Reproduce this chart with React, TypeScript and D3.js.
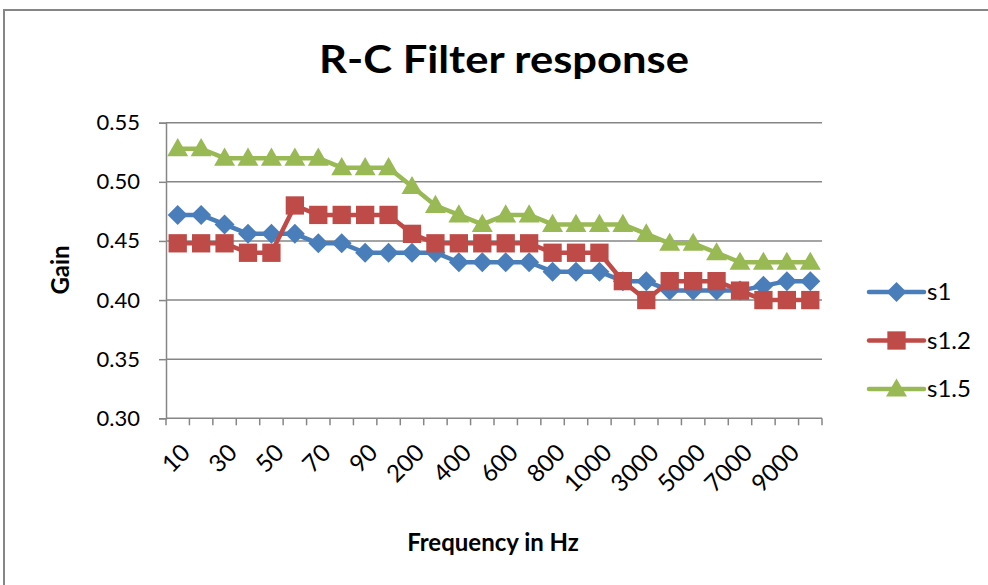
import React, { useEffect, useRef } from "react";
import * as d3 from "d3";

// categories (Hz)
const frequencies = [
  "10", "20", "30", "40", "50", "60", "70", "80", "90", "100",
  "200", "300", "400", "500", "600", "700", "800", "900", "1000",
  "2000", "3000", "4000", "5000", "6000", "7000", "8000", "9000", "10000",
];

// gain values
const s1 = [
  0.472, 0.472, 0.464, 0.456, 0.456, 0.456, 0.448, 0.448, 0.44, 0.44,
  0.44, 0.44, 0.432, 0.432, 0.432, 0.432, 0.424, 0.424, 0.424,
  0.416, 0.416, 0.408, 0.408, 0.408, 0.408, 0.412, 0.416, 0.416,
];
const s12 = [
  0.448, 0.448, 0.448, 0.44, 0.44, 0.48, 0.472, 0.472, 0.472, 0.472,
  0.456, 0.448, 0.448, 0.448, 0.448, 0.448, 0.44, 0.44, 0.44,
  0.416, 0.4, 0.416, 0.416, 0.416, 0.408, 0.4, 0.4, 0.4,
];
const s15 = [
  0.528, 0.528, 0.52, 0.52, 0.52, 0.52, 0.52, 0.512, 0.512, 0.512,
  0.496, 0.48, 0.472, 0.464, 0.472, 0.472, 0.464, 0.464, 0.464,
  0.464, 0.456, 0.448, 0.448, 0.44, 0.432, 0.432, 0.432, 0.432,
];

const seriesNames = ["s1", "s1.2", "s1.5"];
const yTicks = [0.3, 0.35, 0.4, 0.45, 0.5, 0.55];

const App = () => {
  const ref = useRef<SVGSVGElement>(null);

  useEffect(() => {
    const width = 988;
    const height = 585;
    const font = "Lato, 'Open Sans', sans-serif";
    const grid = "#868686";
    const colors = ["#4a7ebb", "#be4b48", "#98b954"];
    const symbols = [d3.symbolDiamond2, d3.symbolSquare, d3.symbolTriangle];
    const symSizes = [255, 335, 190];

    const svg = d3.select(ref.current);
    svg.selectAll("*").remove();

    // chart frame
    svg.append("rect")
      .attr("x", 4).attr("y", 10)
      .attr("width", width).attr("height", height)
      .attr("fill", "#fff")
      .attr("stroke", grid).attr("stroke-width", 2);

    const left = 166, right = 822, top = 122.7, bottom = 418.3;

    const x = d3.scaleBand<string>()
      .domain(frequencies)
      .range([left, right]);

    const y = d3.scaleLinear()
      .domain([0.3, 0.55])
      .range([bottom, top]);

    // title
    svg.append("text")
      .attr("x", 504).attr("y", 73)
      .attr("text-anchor", "middle")
      .attr("font-family", font)
      .attr("font-weight", "bold")
      .attr("font-size", 38)
      .attr("textLength", 370)
      .attr("lengthAdjust", "spacingAndGlyphs")
      .text("R-C Filter response");

    // gridlines
    svg.append("g")
      .selectAll("line")
      .data(yTicks.slice(1))
      .enter()
      .append("line")
      .attr("x1", left).attr("x2", right)
      .attr("y1", d => y(d)).attr("y2", d => y(d))
      .attr("stroke", grid).attr("stroke-width", 1.5);

    // y axis
    const yAxis = svg.append("g")
      .attr("transform", `translate(${left},0)`)
      .call(d3.axisLeft(y).tickValues(yTicks).tickFormat(d3.format(".2f")).tickSize(7).tickPadding(19));
    yAxis.select(".domain").attr("stroke", grid).attr("stroke-width", 1.5);
    yAxis.selectAll(".tick line").attr("stroke", grid).attr("stroke-width", 1.5);
    yAxis.selectAll("text")
      .attr("font-family", font)
      .attr("font-size", 22)
      .attr("fill", "#000");

    // x axis (ticks at category boundaries)
    const xg = svg.append("g");
    xg.append("line")
      .attr("x1", left).attr("x2", right)
      .attr("y1", bottom).attr("y2", bottom)
      .attr("stroke", grid).attr("stroke-width", 1.5);
    xg.selectAll("line.tk")
      .data(frequencies.concat([""]))
      .enter()
      .append("line")
      .attr("class", "tk")
      .attr("x1", (d, i) => left + i * x.bandwidth())
      .attr("x2", (d, i) => left + i * x.bandwidth())
      .attr("y1", bottom).attr("y2", bottom + 7)
      .attr("stroke", grid).attr("stroke-width", 1.5);
    xg.selectAll("text")
      .data(frequencies.filter((d, i) => i % 2 === 0))
      .enter()
      .append("text")
      .attr("transform", d => `translate(${(x(d) as number) + x.bandwidth() / 2 + 8},${bottom + 30}) rotate(-45)`)
      .attr("text-anchor", "end")
      .attr("dy", "0.35em")
      .attr("font-family", font)
      .attr("font-size", 24)
      .text(d => d);

    // axis titles
    svg.append("text")
      .attr("x", 493).attr("y", 551)
      .attr("text-anchor", "middle")
      .attr("font-family", font)
      .attr("font-weight", "bold")
      .attr("font-size", 24)
      .text("Frequency in Hz");
    svg.append("text")
      .attr("transform", "translate(69,270) rotate(-90)")
      .attr("text-anchor", "middle")
      .attr("font-family", font)
      .attr("font-weight", "bold")
      .attr("font-size", 24)
      .text("Gain");

    // series
    const line = d3.line<number>()
      .x((d, i) => (x(frequencies[i]) as number) + x.bandwidth() / 2)
      .y(d => y(d));

    [s1, s12, s15].forEach((values, k) => {
      const g = svg.append("g");
      g.append("path")
        .datum(values)
        .attr("d", line)
        .attr("fill", "none")
        .attr("stroke", colors[k])
        .attr("stroke-width", 4.5)
        .attr("stroke-linejoin", "round");
      g.selectAll("path.m")
        .data(values)
        .enter()
        .append("path")
        .attr("class", "m")
        .attr("transform", (d, i) => `translate(${(x(frequencies[i]) as number) + x.bandwidth() / 2},${y(d) + (k === 2 ? 1.5 : 0)})`)
        .attr("d", d3.symbol().type(symbols[k]).size(symSizes[k]))
        .attr("fill", colors[k]);
    });

    // legend
    const legend = svg.append("g");
    seriesNames.forEach((name, k) => {
      const ly = 292 + k * 48.5;
      legend.append("line")
        .attr("x1", 869).attr("x2", 924)
        .attr("y1", ly).attr("y2", ly)
        .attr("stroke", colors[k]).attr("stroke-width", 4.5)
        .attr("stroke-linecap", "round");
      legend.append("path")
        .attr("transform", `translate(896.5,${ly + (k === 2 ? 1.5 : 0)})`)
        .attr("d", d3.symbol().type(symbols[k]).size(symSizes[k]))
        .attr("fill", colors[k]);
      legend.append("text")
        .attr("x", 927).attr("y", ly)
        .attr("dy", "0.35em")
        .attr("font-family", font)
        .attr("font-size", 24)
        .text(name);
    });
  }, []);

  return (
    <svg
      ref={ref}
      width={988}
      height={585}
      style={{ position: "absolute", left: 0, top: 0 }}
    />
  );
};

export default App;
